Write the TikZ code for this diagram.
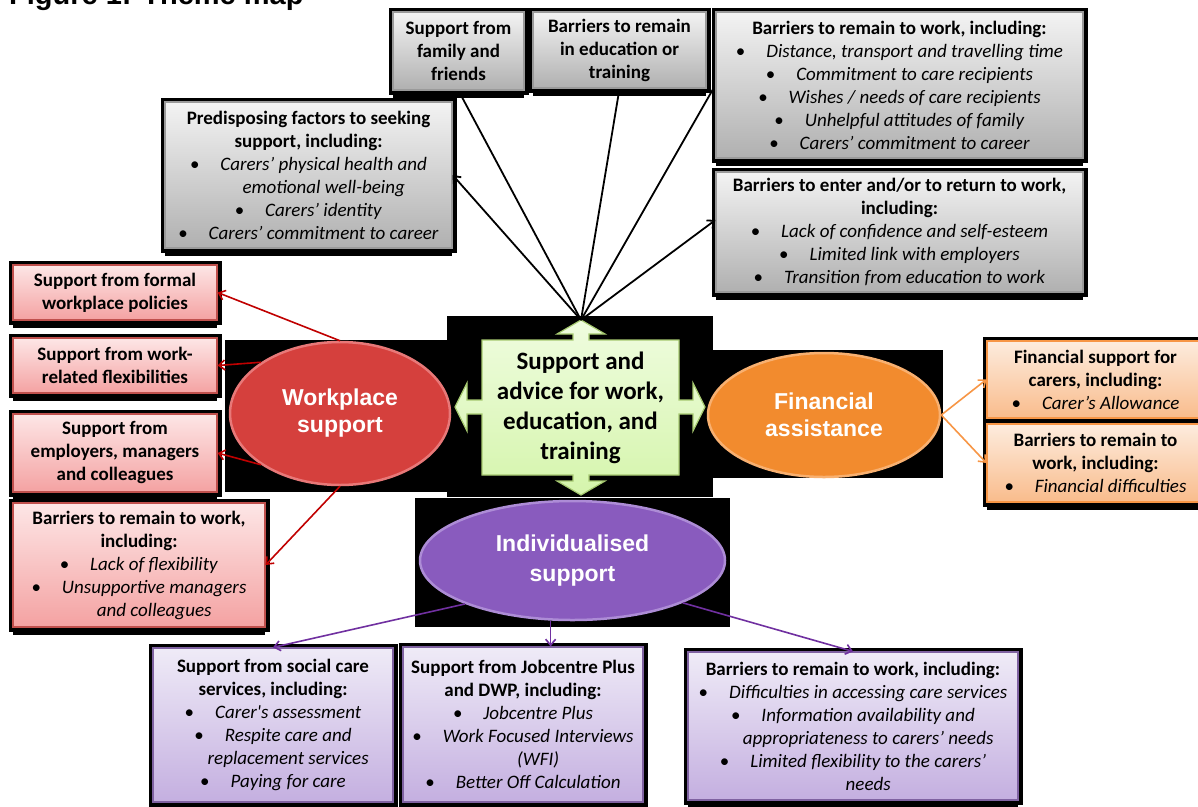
\documentclass[tikz,border=0pt]{standalone}
\usepackage{fontspec}
\setmainfont{Carlito}
\newfontfamily\headfont{Liberation Sans}
\newfontface\straightit{Carlito Italic}[Ligatures=ResetAll]
\usetikzlibrary{shapes.geometric, arrows.meta, calc, shadows}
\pgfdeclarelayer{back}
\pgfsetlayers{back,main}

% fills and edges of the three families of boxes
\definecolor{grayTop}{HTML}{F3F3F3}
\definecolor{grayBot}{HTML}{B0B0B0}
\definecolor{grayEdge}{HTML}{9A9A9A}
\definecolor{redTop}{HTML}{FDE6E6}
\definecolor{redBot}{HTML}{F4A2A2}
\definecolor{redEdge}{HTML}{C0504D}
\definecolor{redLink}{HTML}{C00000}
\definecolor{orTop}{HTML}{FDECDE}
\definecolor{orBot}{HTML}{F9BC8C}
\definecolor{orEdge}{HTML}{F79646}
\definecolor{puTop}{HTML}{EFEBF7}
\definecolor{puBot}{HTML}{C4AFE0}
\definecolor{puEdge}{HTML}{7F62A1}
\definecolor{puLink}{HTML}{7030A0}
\definecolor{grTop}{HTML}{EFFCDF}
\definecolor{grBot}{HTML}{D5F5AC}
\definecolor{grEdge}{HTML}{A6C970}
% theme ellipses
\definecolor{wpFill}{HTML}{D5403D}
\definecolor{wpEdge}{HTML}{E87878}
\definecolor{faFill}{HTML}{F28B2E}
\definecolor{faEdge}{HTML}{F8B070}
\definecolor{inFill}{HTML}{895BBE}
\definecolor{inEdge}{HTML}{AD8CD6}

% heading line and bullet lines inside the boxes
\newcommand\hd[1]{\textbf{#1}}
\newcommand\itemline[1]{\textbullet\hspace{1.1em}\textit{#1}}
\newcommand\itemcont[1]{\phantom{\textbullet\hspace{1.1em}}\textit{#1}}

\begin{document}
\begin{tikzpicture}[x=1pt, y=-1pt,
  panel/.style={rectangle, inner sep=0pt, align=center,
    font=\fontsize{19}{23}\selectfont, line width=1.2pt,
    preaction={draw=black, line width=9pt},
    general shadow={fill=black, shadow yshift=-8pt}},
  graybox/.style={panel, top color=grayTop, bottom color=grayBot, draw=grayEdge},
  redbox/.style={panel, top color=redTop, bottom color=redBot, draw=redEdge},
  orbox/.style={panel, top color=orTop, bottom color=orBot, draw=orEdge},
  pubox/.style={panel, top color=puTop, bottom color=puBot, draw=puEdge},
  theme/.style={ellipse, inner sep=0pt, align=center, text=white, line width=2.5pt,
    font=\headfont\bfseries\fontsize{23}{27}\selectfont},
  tip/.style={-{Straight Barb[length=6pt,width=10pt]}},
  hublink/.style={draw=black, line width=1.8pt},
  redlink/.style={draw=redLink, line width=1.6pt, tip},
  orlink/.style={draw=orEdge, line width=1.6pt, tip},
  pulink/.style={draw=puLink, line width=1.6pt, tip}
]
\useasboundingbox (0,0) rectangle (1198,806);

% caption, partly above the page
\node[anchor=base west, inner sep=0pt, font=\headfont\bfseries\fontsize{29}{29}\selectfont]
  (title) at (9,4) {Figure 1: Theme map};

% ---- boxes above the hub
\node[graybox, minimum width=131pt, minimum height=78pt] (fam) at (458.5,51)
  {\hd{Support from}\\\hd{family and}\\\hd{friends}};
\node[graybox, minimum width=173pt, minimum height=76pt] (edu) at (619.5,50)
  {\hd{Barriers to remain}\\\hd{in education or}\\\hd{training}};
\node[graybox, minimum width=367pt, minimum height=146pt] (rw) at (899.5,85)
  {\hd{Barriers to remain to work, including:}\\
   \itemline{Distance, transport and travelling time}\\
   \itemline{Commitment to care recipients}\\
   \itemline{Wishes / needs of care recipients}\\
   \itemline{Unhelpful attitudes of family}\\
   \itemline{Carers’ commitment to career}};
\node[graybox, minimum width=367pt, minimum height=120pt] (enter) at (899.5,232)
  {\hd{Barriers to enter and/or to return to work,}\\\hd{including:}\\
   \itemline{Lack of confidence and self-esteem}\\
   \itemline{Limited link with employers}\\
   \itemline{Transition from education to work}};
\node[graybox, minimum width=287pt, minimum height=146pt] (pre) at (308.5,175)
  {\hd{Predisposing factors to seeking}\\\hd{support, including:}\\
   \itemline{Carers’ physical health and}\\
   \itemcont{emotional well-being}\\
   \itemline{Carers’ identity}\\
   \itemline{Carers’ commitment to career}};

% ---- workplace boxes
\node[redbox, minimum width=204pt, minimum height=55pt] (r1) at (115,292.5)
  {\hd{Support from formal}\\\hd{workplace policies}};
\node[redbox, minimum width=204pt, minimum height=55pt] (r2) at (115,365.5)
  {\hd{Support from work-}\\\hd{related flexibilities}};
\node[redbox, minimum width=204pt, minimum height=78pt] (r3) at (115,453)
  {\hd{Support from}\\\hd{employers, managers}\\\hd{and colleagues}};
\node[redbox, minimum width=252pt, minimum height=124pt] (r4) at (139,565)
  {\hd{Barriers to remain to work,}\\\hd{including:}\\
   \itemline{Lack of flexibility}\\
   \itemline{Unsupportive managers}\\
   \itemcont{and colleagues}};

% ---- financial boxes
\node[orbox, minimum width=217pt, minimum height=77pt] (o1) at (1095.5,379.5)
  {\hd{Financial support for}\\\hd{carers, including:}\\\itemline{Carer’s Allowance}};
\node[orbox, minimum width=217pt, minimum height=78pt] (o2) at (1095.5,463)
  {\hd{Barriers to remain to}\\\hd{work, including:}\\\itemline{Financial difficulties}};

% ---- individualised support boxes
\node[pubox, minimum width=240pt, minimum height=154pt] (p1) at (273,725)
  {\hd{Support from social care}\\\hd{services, including:}\\
   \itemline{Carer{\straightit\char"27}s assessment}\\
   \itemline{Respite care and}\\
   \itemcont{replacement services}\\
   \itemline{Paying for care}};
\node[pubox, minimum width=240pt, minimum height=155pt] (p2) at (523,724.5)
  {\hd{Support from Jobcentre Plus}\\\hd{and DWP, including:}\\
   \itemline{Jobcentre Plus}\\
   \itemline{Work Focused Interviews}\\
   \itemcont{(WFI)}\\
   \itemline{Better Off Calculation}};
\node[pubox, minimum width=330pt, minimum height=148pt] (p3) at (853,726)
  {\hd{Barriers to remain to work, including:}\\
   \itemline{Difficulties in accessing care services}\\
   \itemline{Information availability and}\\
   \itemcont{appropriateness to carers’ needs}\\
   \itemline{Limited flexibility to the carers’}\\
   \itemcont{needs}};

% ---- theme ellipses
\node[theme, fill=wpFill, draw=wpEdge, minimum width=220pt, minimum height=143pt]
  (wp) at (340,413.5) {Workplace\\support};
\node[theme, fill=faFill, draw=faEdge, minimum width=232pt, minimum height=124pt]
  (fa) at (824,415) {Financial\\assistance};
\node[theme, fill=inFill, draw=inEdge, minimum width=305pt, minimum height=119pt,
  font=\headfont\bfseries\fontsize{23}{30}\selectfont]
  (ind) at (572.5,560.5) {Individualised\\support};

% ---- central hub: box with four arrow heads
\shade[top color=grTop, bottom color=grBot, draw=grEdge, line width=1.2pt]
  (482,340) -- (573,340) -- (573,334) -- (557,334) -- (581,320) -- (605,334)
  -- (589,334) -- (589,340) -- (679,340) -- (679,400) -- (693,400) -- (693,383)
  -- (705,407) -- (693,431) -- (693,414) -- (679,414) -- (679,475) -- (589,475)
  -- (589,481) -- (605,481) -- (581,495) -- (557,481) -- (573,481) -- (573,475)
  -- (482,475) -- (482,414) -- (467,414) -- (467,431) -- (455,407) -- (467,383)
  -- (467,400) -- (482,400) -- cycle;
\node[align=center, font=\bfseries\fontsize{25}{30}\selectfont] (hub) at (580.5,407.5)
  {Support and\\advice for work,\\education, and\\training};
\coordinate (hubtip) at (581,320);

% ---- dark panels behind the hub and the ellipses, and links hidden under frames
\begin{pgfonlayer}{back}
  \fill[black] (447,316) rectangle (713,497);
  \fill[black] (225,340) rectangle (447,492);
  \fill[black] (713,350) rectangle (943,478);
  \fill[black] (415,498) rectangle (730,627);
  \draw[hublink] (hubtip) -- (fam.south);
  \draw[hublink] (hubtip) -- (edu.south);
  \draw[hublink] (hubtip) -- (rw.west);
\end{pgfonlayer}

% ---- visible links
\draw[hublink, tip] (hubtip) -- (pre.east);
\draw[hublink, tip] (hubtip) -- ($(enter.west)+(0,-12)$);

\draw[redlink] (wp.north) -- (r1.east);
\draw[redlink] (wp.147) -- (r2.east);
\draw[redlink] (wp.213) -- (r3.east);
\draw[redlink] (wp.south) -- (r4.east);

\draw[orlink] (fa.east) -- (o1.west);
\draw[orlink] (fa.east) -- (o2.west);

\draw[pulink] (ind.202) -- (p1.north);
\draw[pulink] (ind.250) -- (ind.250 |- p2.north);
\draw[pulink] (ind.339) -- (p3.north);
\end{tikzpicture}
\end{document}
